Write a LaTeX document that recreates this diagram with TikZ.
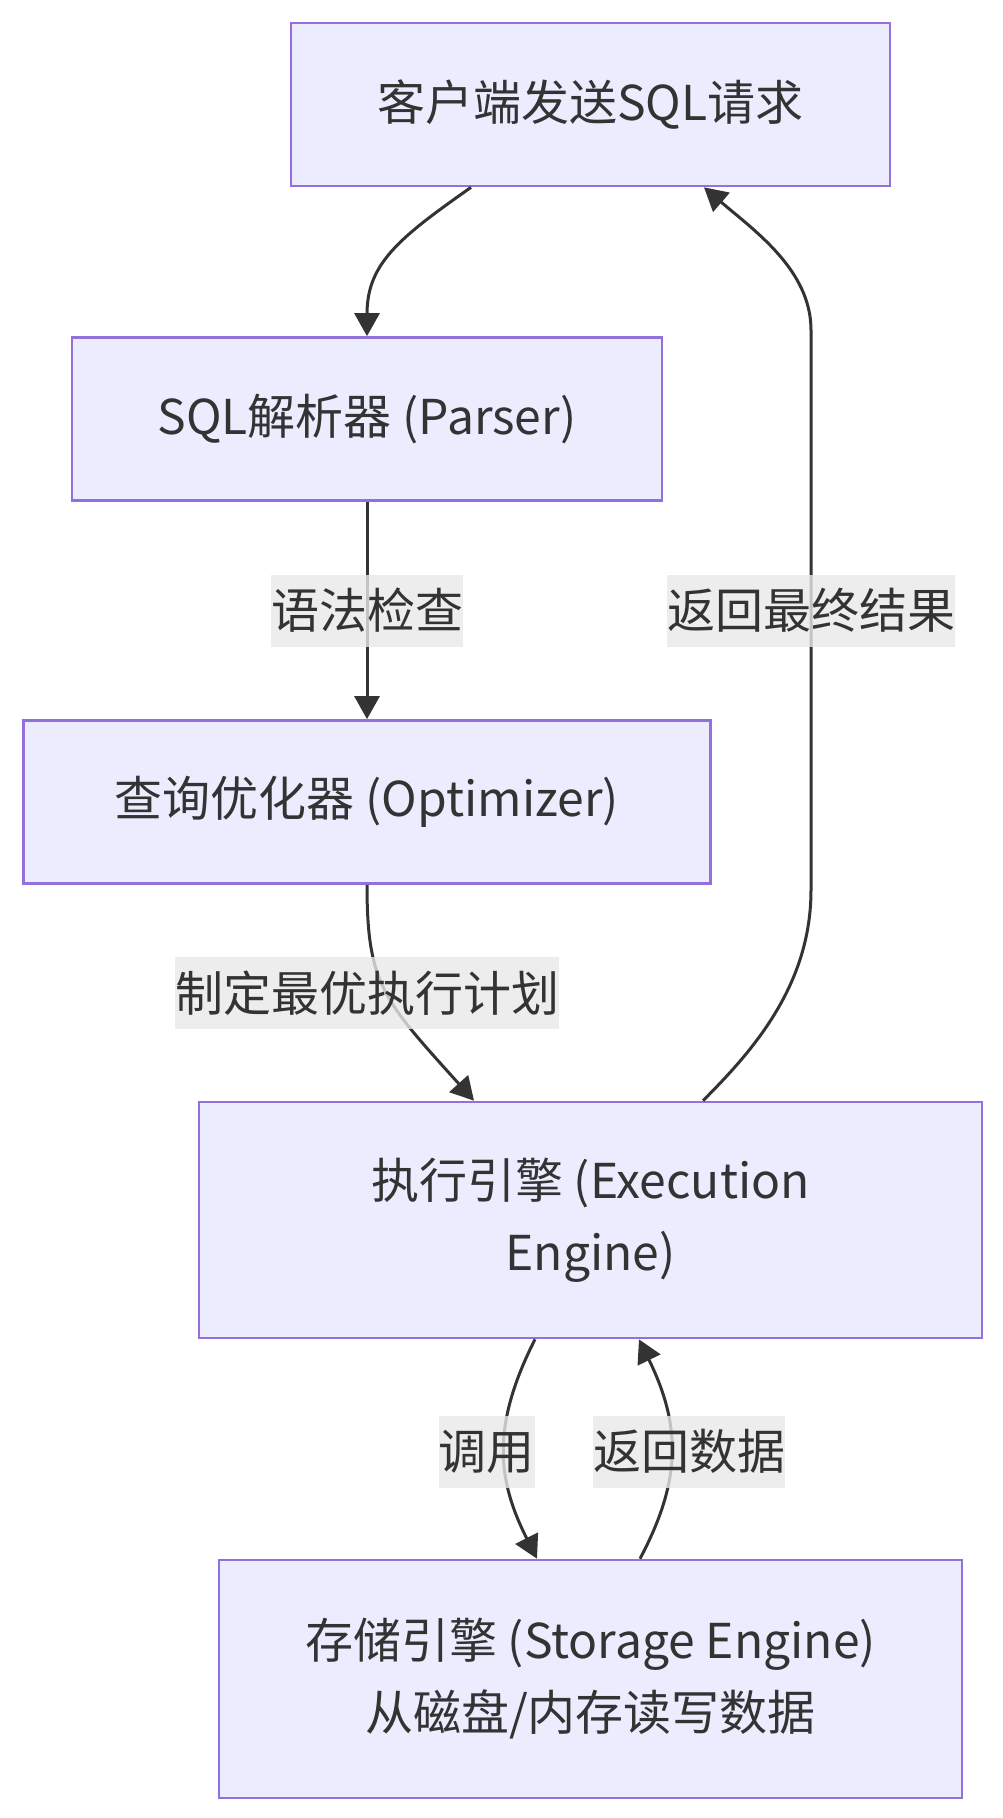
\documentclass[tikz,border=0pt]{standalone}
\usepackage{fontspec}
\setmainfont{Noto Sans CJK SC}
\usepackage{tikz}
\usepackage{xcolor}
\usetikzlibrary{arrows.meta, calc}

\definecolor{boxfill}{HTML}{ECECFF}
\definecolor{boxline}{HTML}{9370DB}
\definecolor{edgeink}{HTML}{333333}
\definecolor{lblfill}{HTML}{E8E8E8}

\tikzset{
    stage/.style={draw=boxline, fill=boxfill, line width=2.7pt, align=center, text=edgeink, inner sep=0pt, font=\fontsize{48pt}{72pt}\selectfont},
    flow/.style={-{Triangle[length=23pt, width=25pt]}, draw=edgeink, line width=3pt},
    lbl/.style={fill=lblfill, fill opacity=0.8, text opacity=1, text=edgeink, inner sep=0pt, minimum height=72pt, font=\fontsize{48pt}{72pt}\selectfont}
}

\begin{document}
\begin{tikzpicture}[x=1pt, y=-1pt]
    \useasboundingbox (0,0) rectangle (1002,1818);

    % Create the five stages of the query path
    \foreach \nm/\cx/\cy/\bw/\bh/\txt in {
        client/590.5/104.5/599/163/{客户端发送SQL请求},
        parser/367/419/590/163/{SQL解析器 (Parser)},
        optim/367/802/687/163/{查询优化器 (Optimizer)},
        exec/590.5/1220/783/236/{执行引擎 (Execution\\Engine)},
        storage/590.5/1679/743/238/{存储引擎 (Storage Engine)\\从磁盘/内存读写数据}} {
        \node[stage, minimum width=\bw, minimum height=\bh] (\nm) at (\cx,\cy) {\txt};
    }

    % Forward path down the stages
    \draw[flow] ([xshift=-119.5pt]client.south) .. controls +(-71,50) and +(0,-73) .. (parser.north);
    \draw[flow] (parser.south) -- node[lbl] (lblsyntax) {语法检查} (optim.north);
    \draw[flow] (optim.south) .. controls +(0,100) and +(-90,-100) .. ([xshift=-116.5pt]exec.north);
    \node[lbl] (lblplan) at ($(optim.south)!0.5!(optim.south |- exec.north)$) {制定最优执行计划};

    % Round trip to the storage engine
    \draw[flow] ([xshift=-55.5pt]exec.south) .. controls +(-44,87) and +(-40,-79) .. node[lbl, pos=0.5, xshift=-18pt] (lblcall) {调用} ([xshift=-53.5pt]storage.north);
    \draw[flow] ([xshift=49.5pt]storage.north) .. controls +(42,-79) and +(42,86) .. node[lbl, pos=0.5, xshift=18pt] (lbldata) {返回数据} ([xshift=48.5pt]exec.south);

    % The final result goes back to the client
    \coordinate (retlow) at (811,890);
    \coordinate (rethigh) at (811,330);
    \draw[flow] ([xshift=112.5pt]exec.north) .. controls +(50,-50) and +(0,95) .. (retlow) -- (rethigh) .. controls +(0,-60) and +(50,43) .. ([xshift=113.5pt]client.south);
    \node[lbl] (lblresult) at (lblsyntax -| rethigh) {返回最终结果};
\end{tikzpicture}
\end{document}
